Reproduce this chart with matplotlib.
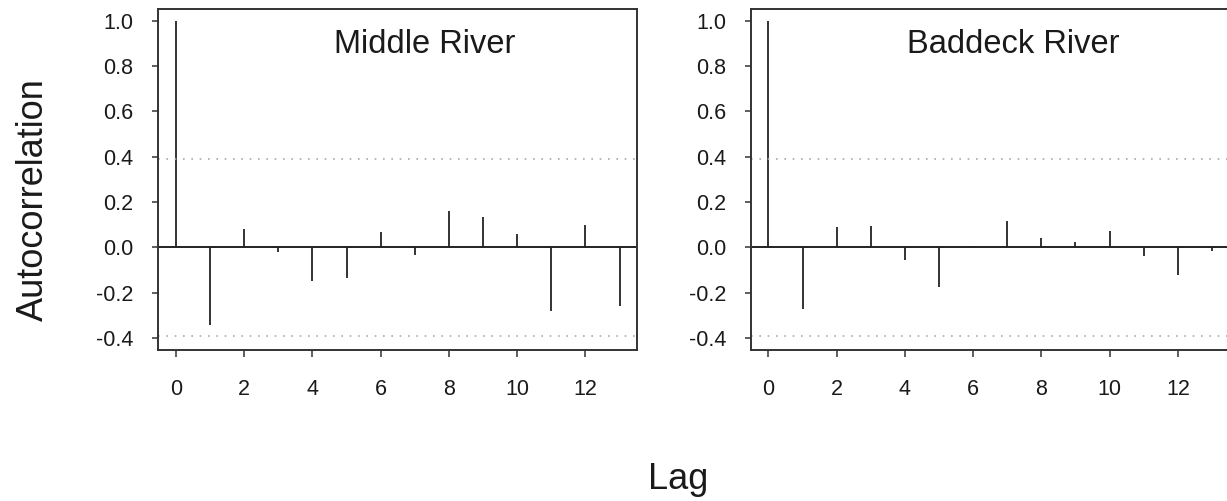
import matplotlib
matplotlib.use("Agg")
import matplotlib.pyplot as plt

plt.rcParams['font.family'] = ['Liberation Sans', 'DejaVu Sans']

# sample autocorrelations, lags 0-13
lags = list(range(14))
middle_acf = [1.0, -0.343, 0.079, -0.022, -0.149, -0.137, 0.068,
              -0.032, 0.162, 0.134, 0.057, -0.281, 0.100, -0.260]
baddeck_acf = [1.0, -0.271, 0.090, 0.096, -0.054, -0.176, 0.004,
               0.118, 0.040, 0.024, 0.074, -0.037, -0.122, -0.016]
conf_limit = 0.392  # 1.96 / sqrt(25)

rivers = ['Middle River', 'Baddeck River']
series = [middle_acf, baddeck_acf]
xticks = [0, 2, 4, 6, 8, 10, 12]
yticks = [-0.4, -0.2, 0.0, 0.2, 0.4, 0.6, 0.8, 1.0]

fig = plt.figure(figsize=(12.27, 5.01), dpi=100)
axes_pos = [[0.129, 0.3014, 0.3904, 0.6806],
            [0.6118, 0.3014, 0.3904, 0.6806]]
title_x = [0.557, 0.548]

txt = '#1a1a1a'
for pos, name, acf, tx in zip(axes_pos, rivers, series, title_x):
    ax = fig.add_axes(pos)
    ax.vlines(lags, 0, acf, color='#111111', lw=1.2)
    ax.axhline(0, color='#222222', lw=1.4)
    for c in (conf_limit, -conf_limit):
        ax.axhline(c, color='#aaaaaa', lw=1.2, linestyle=(0, (1, 4)))
    ax.set_xlim(-0.52, 13.52)
    ax.set_ylim(-0.453, 1.052)
    ax.set_xticks(xticks)
    ax.set_yticks(yticks)
    ax.set_yticklabels(['%.1f' % v for v in yticks])
    ax.tick_params(axis='x', length=5, width=1.1, pad=16, labelsize=15.5,
                   colors='#333333', labelcolor=txt)
    ax.tick_params(axis='y', length=4.3, width=1.1, pad=13.5, labelsize=15.5,
                   colors='#333333', labelcolor=txt)
    for s in ax.spines.values():
        s.set_linewidth(1.4)
        s.set_color('#333333')
    ax.text(tx, 0.870, name, transform=ax.transAxes, ha='center',
            va='baseline', fontsize=23.5, color=txt)

fig.text(0.027, 0.601, 'Autocorrelation', rotation=90, ha='center',
         va='center', fontsize=26, color=txt)
fig.text(0.553, 0.024, 'Lag', ha='center', va='baseline', fontsize=26,
         color=txt)

fig.savefig('out.png', dpi=100)
